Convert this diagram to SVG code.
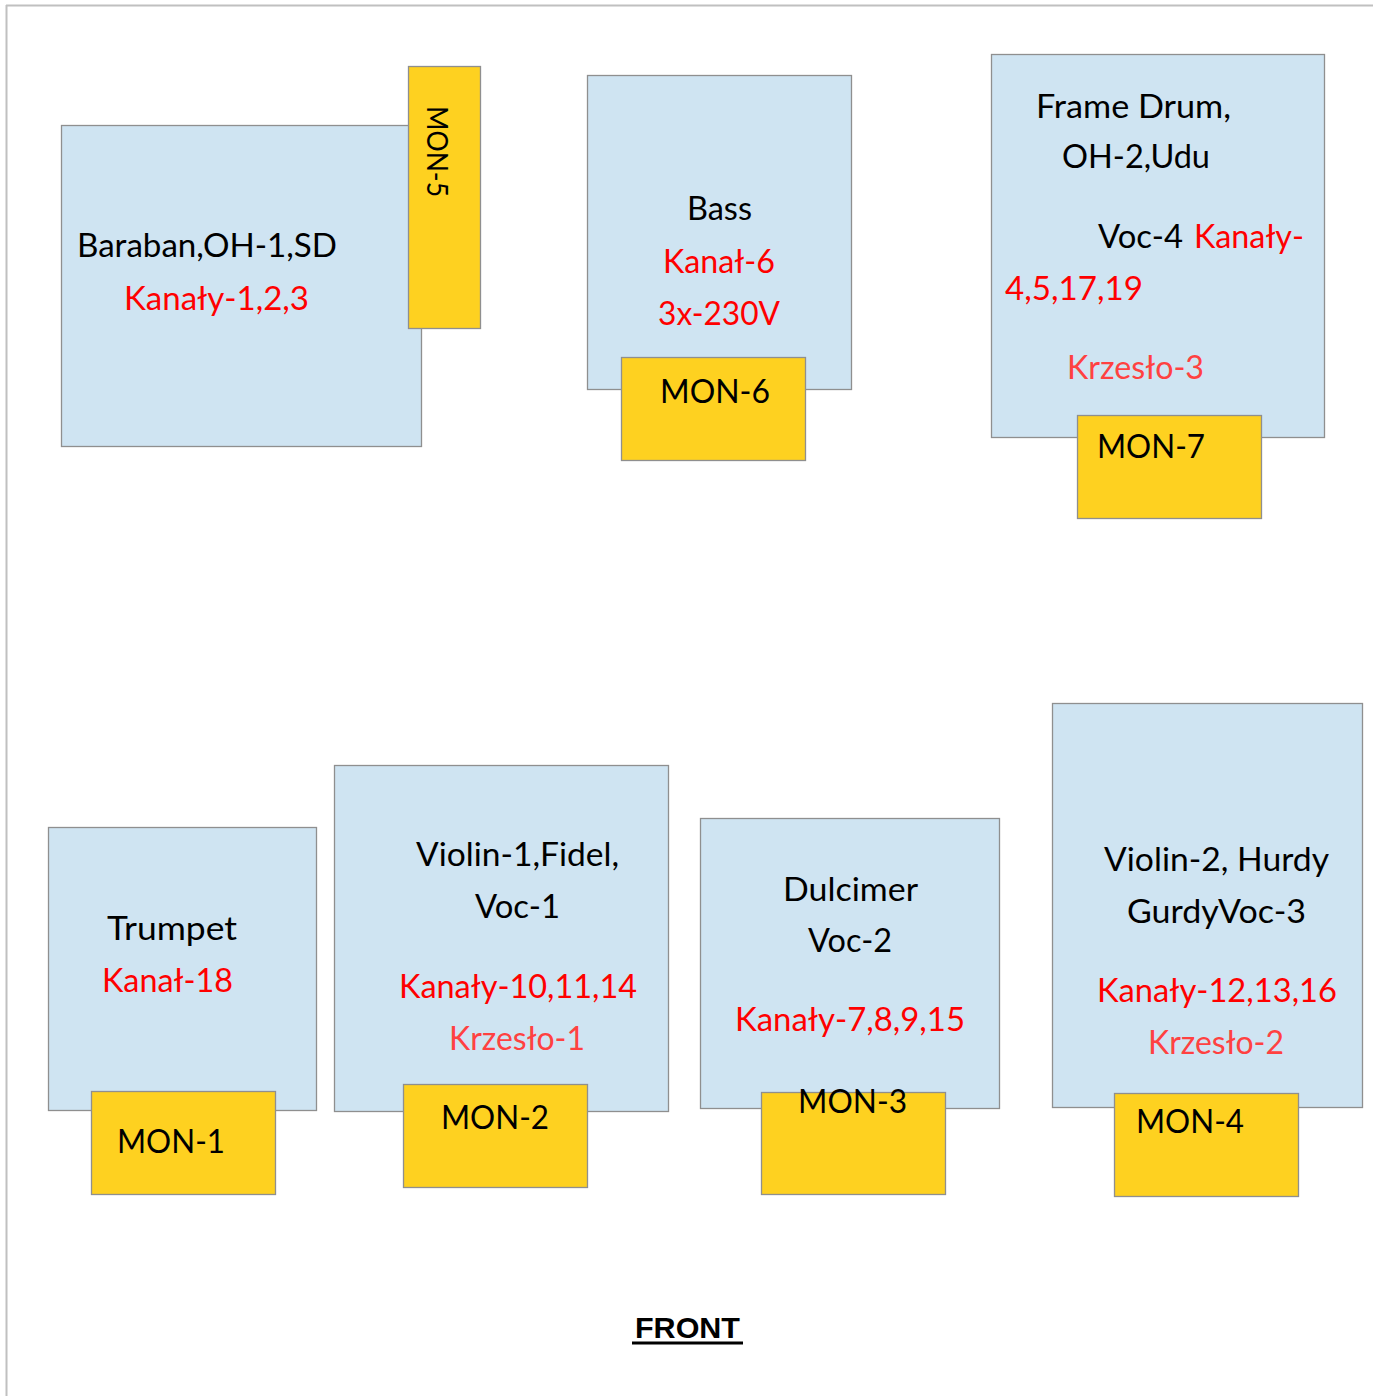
<svg xmlns="http://www.w3.org/2000/svg" width="1373" height="1396" viewBox="0 0 1373 1396">
<style>
.area{fill:#cfe4f2;stroke:#8f8f8f;stroke-width:1.3}
.mon{fill:#fed120;stroke:#8f8f8f;stroke-width:1.3}
text{font-family:Lato,"Open Sans","Noto Sans",sans-serif;font-size:33px;fill:#000}
.r{fill:#ff0000}
.k{fill:#ff4141}
.m{font-size:33px}
.front{font-family:"Liberation Sans",Arial,sans-serif;font-weight:bold;font-size:30px}
</style>
<rect x="0" y="0" width="1373" height="1396" fill="#ffffff"/>
<g id="page-border" stroke="#c0c0c0" stroke-width="2" fill="none">
<line x1="6" y1="5.5" x2="1373" y2="5.5"/>
<line x1="6.5" y1="5" x2="6.5" y2="1396"/>
</g>

<g id="drums">
<rect class="area" x="61.5" y="125.5" width="360" height="321"/>
<text x="77" y="257" textLength="260" lengthAdjust="spacingAndGlyphs">Baraban,OH-1,SD</text>
<text class="r" x="124" y="310" textLength="185" lengthAdjust="spacingAndGlyphs">Kanały-1,2,3</text>
</g>
<g id="mon-5">
<rect class="mon" x="408.5" y="66.5" width="72" height="262"/>
<text transform="translate(427,106) rotate(90)" style="font-size:29px" textLength="91" lengthAdjust="spacingAndGlyphs">MON-5</text>
</g>

<g id="bass">
<rect class="area" x="587.5" y="75.5" width="264" height="314"/>
<text x="687" y="220" textLength="65" lengthAdjust="spacingAndGlyphs">Bass</text>
<text class="r" x="663" y="273" textLength="112" lengthAdjust="spacingAndGlyphs">Kanał-6</text>
<text class="r" x="658" y="325" textLength="122" lengthAdjust="spacingAndGlyphs">3x-230V</text>
</g>
<g id="mon-6">
<rect class="mon" x="621.5" y="357.5" width="184" height="103"/>
<text x="660" y="403" textLength="110" lengthAdjust="spacingAndGlyphs">MON-6</text>
</g>

<g id="frame-drum">
<rect class="area" x="991.5" y="54.5" width="333" height="383"/>
<text x="1036" y="118" textLength="195" lengthAdjust="spacingAndGlyphs">Frame Drum,</text>
<text x="1062" y="168" textLength="148" lengthAdjust="spacingAndGlyphs">OH-2,Udu</text>
<text x="1098" y="248" textLength="85" lengthAdjust="spacingAndGlyphs">Voc-4</text>
<text class="r" x="1194" y="248" textLength="110" lengthAdjust="spacingAndGlyphs">Kanały-</text>
<text class="r" x="1005" y="300" textLength="138" lengthAdjust="spacingAndGlyphs">4,5,17,19</text>
<text class="k" x="1067" y="379" textLength="137" lengthAdjust="spacingAndGlyphs">Krzesło-3</text>
</g>
<g id="mon-7">
<rect class="mon" x="1077.5" y="415.5" width="184" height="103"/>
<text x="1097" y="458" textLength="108" lengthAdjust="spacingAndGlyphs">MON-7</text>
</g>

<g id="trumpet">
<rect class="area" x="48.5" y="827.5" width="268" height="283"/>
<text x="107" y="940" textLength="130" lengthAdjust="spacingAndGlyphs">Trumpet</text>
<text class="r" x="102" y="992" textLength="131" lengthAdjust="spacingAndGlyphs">Kanał-18</text>
</g>
<g id="mon-1">
<rect class="mon" x="91.5" y="1091.5" width="184" height="103"/>
<text x="117" y="1153" textLength="108" lengthAdjust="spacingAndGlyphs">MON-1</text>
</g>

<g id="violin-1">
<rect class="area" x="334.5" y="765.5" width="334" height="346"/>
<text x="416" y="866" textLength="203" lengthAdjust="spacingAndGlyphs">Violin-1,Fidel,</text>
<text x="475" y="918" textLength="85" lengthAdjust="spacingAndGlyphs">Voc-1</text>
<text class="r" x="399" y="998" textLength="238" lengthAdjust="spacingAndGlyphs">Kanały-10,11,14</text>
<text class="k" x="449" y="1050" textLength="136" lengthAdjust="spacingAndGlyphs">Krzesło-1</text>
</g>
<g id="mon-2">
<rect class="mon" x="403.5" y="1084.5" width="184" height="103"/>
<text x="441" y="1129" textLength="108" lengthAdjust="spacingAndGlyphs">MON-2</text>
</g>

<g id="dulcimer">
<rect class="area" x="700.5" y="818.5" width="299" height="290"/>
<text x="783" y="901" textLength="135" lengthAdjust="spacingAndGlyphs">Dulcimer</text>
<text x="808" y="952" textLength="84" lengthAdjust="spacingAndGlyphs">Voc-2</text>
<text class="r" x="735" y="1031" textLength="230" lengthAdjust="spacingAndGlyphs">Kanały-7,8,9,15</text>
</g>
<g id="mon-3">
<rect class="mon" x="761.5" y="1092.5" width="184" height="102"/>
<text x="798" y="1113" textLength="109" lengthAdjust="spacingAndGlyphs">MON-3</text>
</g>

<g id="violin-2">
<rect class="area" x="1052.5" y="703.5" width="310" height="404"/>
<text x="1104" y="871" textLength="225" lengthAdjust="spacingAndGlyphs">Violin-2, Hurdy</text>
<text x="1127" y="923" textLength="179" lengthAdjust="spacingAndGlyphs">GurdyVoc-3</text>
<text class="r" x="1097" y="1002" textLength="240" lengthAdjust="spacingAndGlyphs">Kanały-12,13,16</text>
<text class="k" x="1148" y="1054" textLength="136" lengthAdjust="spacingAndGlyphs">Krzesło-2</text>
</g>
<g id="mon-4">
<rect class="mon" x="1114.5" y="1093.5" width="184" height="103"/>
<text x="1136" y="1133" textLength="108" lengthAdjust="spacingAndGlyphs">MON-4</text>
</g>

<g id="front-label">
<text class="front" x="635" y="1338" textLength="105" lengthAdjust="spacingAndGlyphs">FRONT</text>
<rect x="632" y="1341.5" width="111" height="3" fill="#000"/>
</g>
</svg>
